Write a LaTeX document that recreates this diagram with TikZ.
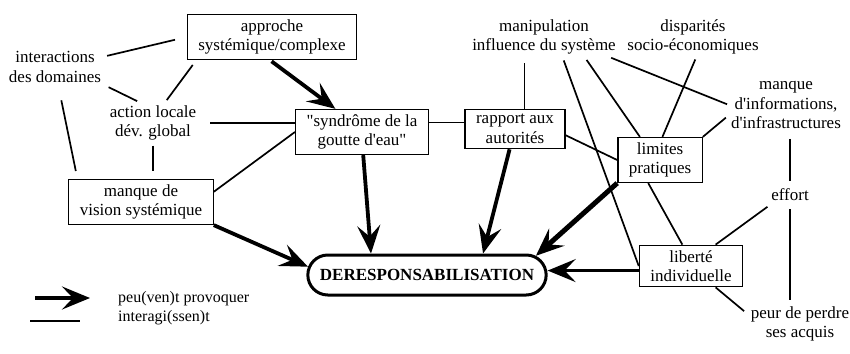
\documentclass[tikz,border=0pt]{standalone}
\usepackage{fontspec}
\setmainfont[Ligatures=TeXOff]{Liberation Serif}
\usetikzlibrary{shapes.misc,arrows.meta}
\newcommand{\diagfont}{\fontsize{17}{19.5}\selectfont}
\newcommand{\ideabox}[3] {\node at (#1) (#2) [ideabox] {#3};}
\newcommand{\idea}[3] {\node at (#1) (#2) [idea] {#3};}
\newcommand{\interlink}[3][] {\draw [interlink, #1] (#2) -- (#3);}
\newcommand{\provokes}[3][] {\draw [provokes, #1] (#2) -- (#3);}
\begin{document}
\begin{tikzpicture}[x=1pt, y=-1pt,
  ideabox/.style={rectangle, draw, line width=1.3pt, align=center, inner xsep=11pt, inner ysep=5pt, font=\diagfont},
  idea/.style={align=center, inner sep=2pt, font=\diagfont},
  interlink/.style={line width=1.7pt},
  provokes/.style={line width=3.8pt, -{Stealth[length=28pt, width=23pt, inset=11pt]}}]

\useasboundingbox (0,0) rectangle (850,353);

\ideabox {272,37}{approche}{approche\\systémique/complexe}
\idea {55,67}{interact}{interactions\\des domaines}
\idea {153,123}{action}{action locale\\dév. global}
\ideabox {362,132}{goutte}{"syndrôme de la\\goutte d'eau"}
\ideabox {515,129}{rapport}{rapport aux\\autorités}
\idea {544,37}{manip}{manipulation\\influence du système}
\idea {693,37}{dispar}{disparités\\socio-économiques}
\idea {786,105}{manqinfo}{manque\\d'informations,\\d'infrastructures}
\ideabox {660,160}{limites}{limites\\pratiques}
\idea {790,195}{effort}{effort}
\ideabox {691,266}{liberte}{liberté\\individuelle}
\idea {800,324}{peur}{peur de perdre\\ses acquis}
\ideabox {141,202}{vision}{manque de\\vision systémique}
\node at (427,275) (deresp) [rounded rectangle, draw, line width=3pt, minimum width=245pt, minimum height=40pt, font=\diagfont\bfseries] {DERESPONSABILISATION};

% interactions
\interlink[shorten <=4pt, shorten >=12pt] {interact.12}{approche.west}
\interlink[shorten <=6pt, shorten >=5pt] {interact.-20}{action.120}
\interlink[shorten <=6pt, shorten >=4pt] {approche.197}{action.60}
\interlink[shorten <=16pt, shorten >=8pt] {interact.-80}{vision.160}
\interlink[shorten <=3pt, shorten >=8pt] {action.south}{action.south |- vision.north}
\interlink[shorten <=12pt] {action.east}{action.east -| goutte.west}
\interlink {vision.8}{goutte.west}
\interlink {goutte.8}{goutte.8 -| rapport.west}
\interlink[shorten >=6pt] {rapport.65}{rapport.65 |- manip.south}
\interlink {rapport.-7}{limites.west}
\interlink[shorten <=4pt] {manip.-47}{liberte.west}
\interlink[shorten <=4pt] {manip.-26}{limites.131}
\interlink[shorten <=3pt, shorten >=2pt] {manip.-17}{manqinfo.west}
\interlink[shorten <=3pt] {dispar.-80}{limites.84}
\interlink[shorten <=4pt] {manqinfo.190}{limites.north east}
\interlink {limites.-117}{liberte.112}
\interlink[shorten <=6pt] {effort.205}{liberte.41}
\interlink[shorten <=8pt, shorten >=6pt] {effort.north |- manqinfo.south}{effort.north}
\interlink[shorten <=6pt, shorten >=4pt] {effort.south}{effort.south |- peur.north}
\interlink[shorten >=6pt] {liberte.-41}{peur.170}

% causes
\provokes[shorten <=2pt] {approche.-95}{goutte.139}
\provokes {goutte.-87}{deresp.159}
\provokes {rapport.-105}{deresp.21}
\provokes[line width=5pt] {limites.south west}{deresp.10}
\provokes[line width=3pt] {liberte.185}{liberte.185 -| deresp.east}
\provokes {vision.south east}{deresp.176}

% legend
\coordinate (legarrow1) at (35,298);
\coordinate (legarrow2) at (90,298);
\provokes {legarrow1}{legarrow2}
\coordinate (leglink1) at (30,321);
\coordinate (leglink2) at (80,321);
\interlink {leglink1}{leglink2}
\node at (118,308) (legtext) [anchor=west, align=left, inner sep=0pt, font=\fontsize{16}{19}\selectfont] {peu(ven)t provoquer\\interagi(ssen)t};

\end{tikzpicture}
\end{document}
